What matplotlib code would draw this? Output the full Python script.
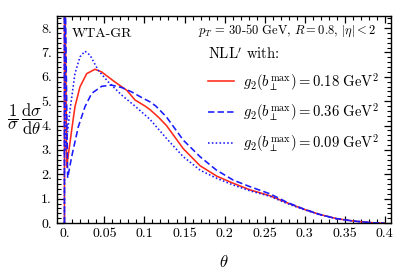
import numpy as np
import matplotlib
matplotlib.use("Agg")
import matplotlib.pyplot as plt
from matplotlib.ticker import MultipleLocator, FuncFormatter

plt.rcParams['font.family'] = ['cmr10', 'DejaVu Serif']
plt.rcParams['mathtext.fontset'] = 'cm'
plt.rcParams['axes.formatter.use_mathtext'] = True

# curves (theta, 1/sigma dsigma/dtheta)
theta_red = [0, 0, 0.0028, 0.0090, 0.0131, 0.0194, 0.0278, 0.0381, 0.0465, 0.0629, 0.0778,
             0.0881, 0.1007, 0.1070, 0.1172, 0.1275, 0.1485, 0.1695, 0.1905, 0.2110, 0.2320,
             0.2567, 0.2782, 0.2987, 0.3192, 0.3402, 0.3612, 0.3817, 0.392, 0.4]
val_red = [0, 12, 2.3, 3.81, 4.77, 5.59, 6.13, 6.31, 6.2, 5.79, 5.45,
           5.05, 4.8, 4.65, 4.35, 4.0, 3.05, 2.35, 1.92, 1.63, 1.36,
           1.12, 0.83, 0.57, 0.35, 0.18, 0.08, 0.02, 0.0, 0.0]

theta_dash = [0, 0, 0.0040, 0.0090, 0.0173, 0.0256, 0.0340, 0.0465, 0.0588, 0.0715, 0.0840,
              0.0965, 0.1070, 0.1142, 0.1275, 0.1485, 0.1695, 0.1900, 0.2110, 0.2320, 0.2567,
              0.2782, 0.2987, 0.3192, 0.3402, 0.3612, 0.3817, 0.392, 0.4]
val_dash = [0, 12, 1.85, 2.72, 3.95, 4.77, 5.32, 5.61, 5.66, 5.56, 5.38,
            5.15, 4.97, 4.8, 4.35, 3.40, 2.72, 2.17, 1.76, 1.49, 1.2,
            0.85, 0.58, 0.35, 0.18, 0.08, 0.02, 0.0, 0.0]

theta_dot = [0, 0, 0.0014, 0.0069, 0.0131, 0.0194, 0.0256, 0.0319, 0.0422, 0.0547, 0.0715,
             0.0881, 0.1070, 0.1275, 0.1485, 0.1695, 0.1905, 0.2110, 0.2320, 0.2567, 0.2782,
             0.2987, 0.3192, 0.3402, 0.3612, 0.3817, 0.392, 0.4]
val_dot = [0, 12, 3.0, 4.63, 6.13, 6.82, 7.05, 6.89, 6.27, 5.79, 5.25,
           4.8, 4.25, 3.47, 2.72, 2.17, 1.83, 1.56, 1.32, 1.1, 0.8,
           0.56, 0.34, 0.17, 0.08, 0.02, 0.0, 0.0]

labels = [r'$g_2(b_\perp^{\max}) = 0.18\ \mathrm{GeV}^2$',
          r'$g_2(b_\perp^{\max}) = 0.36\ \mathrm{GeV}^2$',
          r'$g_2(b_\perp^{\max}) = 0.09\ \mathrm{GeV}^2$']

red = '#ff2a1a'
blue = '#1a1aff'

fig = plt.figure(figsize=(3.99, 2.74), dpi=100)
ax = fig.add_axes([0.1429, 0.186, 0.837, 0.756])

ax.plot(theta_red, val_red, color=red, lw=1.15, label=labels[0])
ax.plot(theta_dash, val_dash, color=blue, lw=1.15, dashes=(4, 2), label=labels[1])
ax.plot(theta_dot, val_dot, color=blue, lw=1.15, dashes=(1, 1.4), label=labels[2])

ax.set_xlim(-0.0093, 0.408)
ax.set_ylim(0, 8.5)

ax.xaxis.set_major_locator(MultipleLocator(0.05))
ax.xaxis.set_minor_locator(MultipleLocator(0.01))
ax.yaxis.set_major_locator(MultipleLocator(1))
ax.yaxis.set_minor_locator(MultipleLocator(0.2))


def fmt(v, pos):
    s = ('%.2f' % v).rstrip('0')
    return s if s != '0.' else '0.'


ax.xaxis.set_major_formatter(FuncFormatter(fmt))
ax.yaxis.set_major_formatter(FuncFormatter(lambda v, p: '%d.' % round(v)))

ax.tick_params(which='both', direction='in', top=True, right=True, labelsize=10)
ax.tick_params(which='major', length=5, width=0.9)
ax.tick_params(which='minor', length=3, width=0.8)
for s in ax.spines.values():
    s.set_linewidth(1.0)

ax.set_xlabel(r'$\theta$', fontsize=12, labelpad=10)
ax.set_ylabel(r'$\dfrac{1}{\sigma}\,\dfrac{\mathrm{d}\sigma}{\mathrm{d}\theta}$',
              fontsize=12, rotation=0, labelpad=12, va='center')

ax.text(0.045, 0.94, 'WTA-GR', transform=ax.transAxes, fontsize=10, va='top')
ax.text(0.955, 0.965, r'$p_T$ = 30-50 GeV, $R = 0.8$, $|\eta| < 2$',
        transform=ax.transAxes, fontsize=9, va='top', ha='right')

leg = ax.legend(loc='upper left', bbox_to_anchor=(0.42, 0.905), frameon=False,
                title=r"NLL$'$ with:", title_fontsize=10.5, fontsize=10.6,
                alignment='left', handlelength=1.8, handletextpad=0.6,
                labelspacing=0.6, borderpad=0.2)

fig.savefig('out.png', dpi=100)
